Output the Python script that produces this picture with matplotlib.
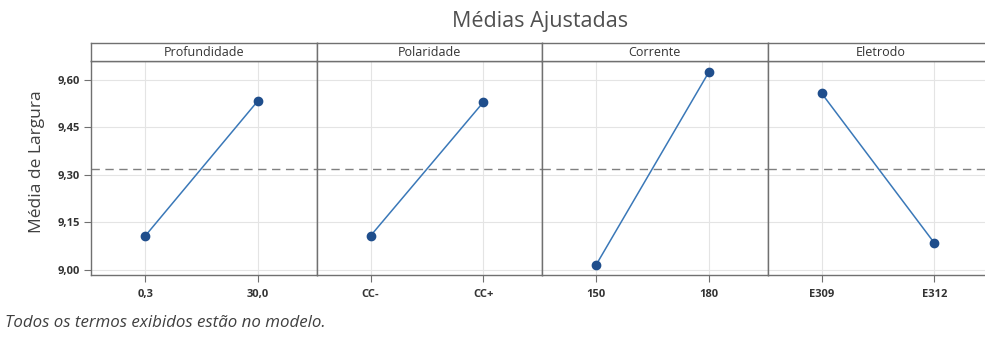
import matplotlib
matplotlib.use("Agg")
import matplotlib.pyplot as plt

plt.rcParams['font.family'] = ['Open Sans', 'DejaVu Sans']

factors = ["Profundidade", "Polaridade", "Corrente", "Eletrodo"]
levels = [["0,3", "30,0"], ["CC-", "CC+"], ["150", "180"], ["E309", "E312"]]
means = [[9.107, 9.534], [9.108, 9.530], [9.016, 9.625], [9.558, 9.085]]
grand_mean = 9.320
yticks = [9.00, 9.15, 9.30, 9.45, 9.60]
ytick_labels = ["9,00", "9,15", "9,30", "9,45", "9,60"]

W, H = 985, 337
fig = plt.figure(figsize=(W / 100, H / 100), dpi=100)

frame_col = "#707070"
grid_col = "#e4e4e4"
line_col = "#3a78b8"
marker_col = "#1f4e8c"
text_col = "#333333"

left_px, panel_w = 91, 225.5
top_px, strip_px, bottom_px = 43, 18, 275

for i, (fac, lv, mv) in enumerate(zip(factors, levels, means)):
    x0 = (left_px + i * panel_w) / W
    ax = fig.add_axes([x0, 1 - bottom_px / H, panel_w / W,
                       (bottom_px - top_px - strip_px) / H])
    xs = list(range(len(lv)))
    ax.plot(xs, mv, color=line_col, lw=1.1, zorder=3)
    ax.plot(xs, mv, 'o', color=marker_col, ms=6, zorder=4)
    ax.axhline(grand_mean, color="#808080", lw=1.0, ls=(0, (6, 4)), zorder=2)
    ax.set_xlim(-0.48, 1.52)
    ax.set_ylim(8.984, 9.66)
    ax.set_xticks(xs)
    ax.set_xticklabels(lv, fontsize=8, fontweight='bold', color=text_col)
    ax.set_yticks(yticks)
    ax.grid(True, color=grid_col, lw=0.8)
    ax.set_axisbelow(True)
    for s in ax.spines.values():
        s.set_color(frame_col)
        s.set_linewidth(1.0)
    ax.tick_params(axis='x', length=5, color=frame_col, pad=5)
    if i == 0:
        ax.set_yticklabels(ytick_labels, fontsize=8, fontweight='bold',
                           color=text_col)
        ax.tick_params(axis='y', length=5, color=frame_col, pad=3)
        ax.set_ylabel("Média de Largura", fontsize=12.5, color="#404040")
        ax.yaxis.set_label_coords(-0.205, 0.53)
    else:
        ax.tick_params(axis='y', length=0, labelleft=False)

    # facet header strip
    sax = fig.add_axes([x0, 1 - (top_px + strip_px) / H, panel_w / W,
                        strip_px / H])
    sax.set_xticks([])
    sax.set_yticks([])
    for s in sax.spines.values():
        s.set_color(frame_col)
        s.set_linewidth(1.0)
    sax.text(0.5, 0.5, fac, ha='center', va='center', fontsize=9,
             color=text_col, transform=sax.transAxes)

fig.text(540 / W, 1 - 21 / H, "Médias Ajustadas", ha='center', va='center',
         fontsize=15.5, color="#505050")
fig.text(5 / W, 1 - 323 / H, "Todos os termos exibidos estão no modelo.",
         ha='left', va='center', fontsize=12.2, style='italic', color="#404040")

fig.savefig("out.png", dpi=100)
